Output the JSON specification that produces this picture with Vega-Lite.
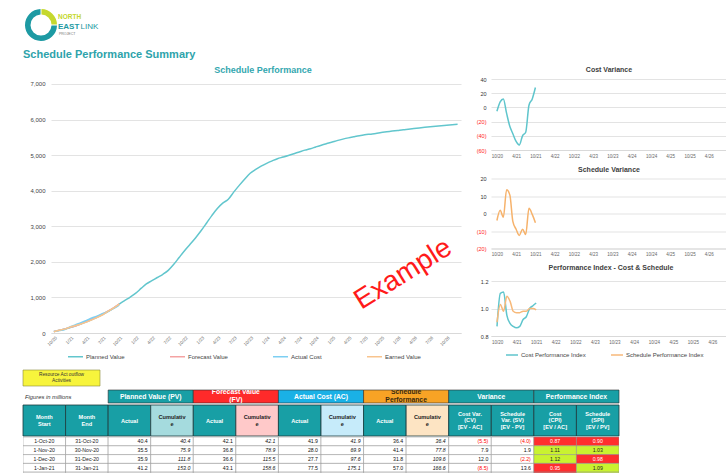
{
  "$schema": "https://vega.github.io/schema/vega-lite/v6.json",
  "usermeta": {"embedOptions": {"actions": false}},
  "padding": 0,
  "background": "white",
  "config": {
    "view": {"stroke": null},
    "font": "Liberation Sans"
  },
  "datasets": {
    "months": [
      {"Month": "2020/10/01", "Planned Value": 40.4, "Forecast Value": 42.1, "Actual Cost": 41.9, "Earned Value": 36.4, "CV": -5.5, "SV": -4.0, "Cost Performance Index": 0.87, "Schedule Performance Index": 0.90, "Start": "1-Oct-20", "End": "31-Oct-20", "PV Actual": 40.4, "FV Actual": 42.1, "AC Actual": 41.9, "EV Actual": 36.4},
      {"Month": "2020/11/01", "Planned Value": 75.9, "Forecast Value": 78.9, "Actual Cost": 69.9, "Earned Value": 77.8, "CV": 7.9, "SV": 1.9, "Cost Performance Index": 1.11, "Schedule Performance Index": 1.03, "Start": "1-Nov-20", "End": "30-Nov-20", "PV Actual": 35.5, "FV Actual": 36.8, "AC Actual": 28.0, "EV Actual": 41.4},
      {"Month": "2020/12/01", "Planned Value": 111.8, "Forecast Value": 115.5, "Actual Cost": 97.6, "Earned Value": 109.6, "CV": 12.0, "SV": -2.2, "Cost Performance Index": 1.12, "Schedule Performance Index": 0.98, "Start": "1-Dec-20", "End": "31-Dec-20", "PV Actual": 35.9, "FV Actual": 36.6, "AC Actual": 27.7, "EV Actual": 31.8},
      {"Month": "2021/01/01", "Planned Value": 153.0, "Forecast Value": 158.6, "Actual Cost": 175.1, "Earned Value": 166.6, "CV": -8.5, "SV": 13.6, "Cost Performance Index": 0.95, "Schedule Performance Index": 1.09, "Start": "1-Jan-21", "End": "31-Jan-21", "PV Actual": 41.2, "FV Actual": 43.1, "AC Actual": 77.5, "EV Actual": 57.0},
      {"Month": "2021/02/01", "Planned Value": 200.0, "Forecast Value": 206.0, "Actual Cost": 237.5, "Earned Value": 210.5, "CV": -27.0, "SV": 10.5, "Cost Performance Index": 0.89, "Schedule Performance Index": 1.05, "Start": "1-Feb-21", "End": "28-Feb-21", "PV Actual": 47.0, "FV Actual": 47.4, "AC Actual": 62.4, "EV Actual": 43.9},
      {"Month": "2021/03/01", "Planned Value": 255, "Forecast Value": 262, "Actual Cost": 287.5, "Earned Value": 250.5, "CV": -37.0, "SV": -4.5, "Cost Performance Index": 0.87, "Schedule Performance Index": 0.98},
      {"Month": "2021/04/01", "Planned Value": 315, "Forecast Value": 322, "Actual Cost": 354, "Earned Value": 306, "CV": -48.0, "SV": -9.0, "Cost Performance Index": 0.86, "Schedule Performance Index": 0.97},
      {"Month": "2021/05/01", "Planned Value": 380, "Forecast Value": 388, "Actual Cost": 420.5, "Earned Value": 367.5, "CV": -53.0, "SV": -12.5, "Cost Performance Index": 0.87, "Schedule Performance Index": 0.97},
      {"Month": "2021/06/01", "Planned Value": 450, "Forecast Value": 458, "Actual Cost": 481, "Earned Value": 441, "CV": -40.0, "SV": -9.0, "Cost Performance Index": 0.92, "Schedule Performance Index": 0.98},
      {"Month": "2021/07/01", "Planned Value": 525, "Forecast Value": 534, "Actual Cost": 548, "Earned Value": 513, "CV": -35.0, "SV": -12.0, "Cost Performance Index": 0.94, "Schedule Performance Index": 0.98},
      {"Month": "2021/08/01", "Planned Value": 610, "Forecast Value": 618, "Actual Cost": 610, "Earned Value": 613, "CV": 3.0, "SV": 3.0, "Cost Performance Index": 1.00, "Schedule Performance Index": 1.00},
      {"Month": "2021/09/01", "Planned Value": 705, "Forecast Value": 712, "Actual Cost": 692.5, "Earned Value": 704.5, "CV": 12.0, "SV": -0.5, "Cost Performance Index": 1.02, "Schedule Performance Index": 1.00},
      {"Month": "2021/10/01", "Planned Value": 815, "Forecast Value": 818, "Actual Cost": 781.7, "Earned Value": 809.7, "CV": 28.0, "SV": -5.3, "Cost Performance Index": 1.04, "Schedule Performance Index": 0.99},
      {"Month": "2021/11/01", "Planned Value": 915},
      {"Month": "2021/12/01", "Planned Value": 1010},
      {"Month": "2022/01/01", "Planned Value": 1120},
      {"Month": "2022/02/01", "Planned Value": 1260},
      {"Month": "2022/03/01", "Planned Value": 1380},
      {"Month": "2022/04/01", "Planned Value": 1470},
      {"Month": "2022/05/01", "Planned Value": 1560},
      {"Month": "2022/06/01", "Planned Value": 1650},
      {"Month": "2022/07/01", "Planned Value": 1760},
      {"Month": "2022/08/01", "Planned Value": 1930},
      {"Month": "2022/09/01", "Planned Value": 2130},
      {"Month": "2022/10/01", "Planned Value": 2320},
      {"Month": "2022/11/01", "Planned Value": 2500},
      {"Month": "2022/12/01", "Planned Value": 2680},
      {"Month": "2023/01/01", "Planned Value": 2880},
      {"Month": "2023/02/01", "Planned Value": 3100},
      {"Month": "2023/03/01", "Planned Value": 3300},
      {"Month": "2023/04/01", "Planned Value": 3500},
      {"Month": "2023/05/01", "Planned Value": 3650},
      {"Month": "2023/06/01", "Planned Value": 3760},
      {"Month": "2023/07/01", "Planned Value": 3960},
      {"Month": "2023/08/01", "Planned Value": 4150},
      {"Month": "2023/09/01", "Planned Value": 4330},
      {"Month": "2023/10/01", "Planned Value": 4490},
      {"Month": "2023/11/01", "Planned Value": 4600},
      {"Month": "2023/12/01", "Planned Value": 4690},
      {"Month": "2024/01/01", "Planned Value": 4770},
      {"Month": "2024/02/01", "Planned Value": 4840},
      {"Month": "2024/03/01", "Planned Value": 4900},
      {"Month": "2024/04/01", "Planned Value": 4945},
      {"Month": "2024/05/01", "Planned Value": 4990},
      {"Month": "2024/06/01", "Planned Value": 5040},
      {"Month": "2024/07/01", "Planned Value": 5090},
      {"Month": "2024/08/01", "Planned Value": 5140},
      {"Month": "2024/09/01", "Planned Value": 5180},
      {"Month": "2024/10/01", "Planned Value": 5230},
      {"Month": "2024/11/01", "Planned Value": 5280},
      {"Month": "2024/12/01", "Planned Value": 5325},
      {"Month": "2025/01/01", "Planned Value": 5370},
      {"Month": "2025/02/01", "Planned Value": 5415},
      {"Month": "2025/03/01", "Planned Value": 5450},
      {"Month": "2025/04/01", "Planned Value": 5485},
      {"Month": "2025/05/01", "Planned Value": 5515},
      {"Month": "2025/06/01", "Planned Value": 5545},
      {"Month": "2025/07/01", "Planned Value": 5570},
      {"Month": "2025/08/01", "Planned Value": 5590},
      {"Month": "2025/09/01", "Planned Value": 5610},
      {"Month": "2025/10/01", "Planned Value": 5635},
      {"Month": "2025/11/01", "Planned Value": 5655},
      {"Month": "2025/12/01", "Planned Value": 5675},
      {"Month": "2026/01/01", "Planned Value": 5695},
      {"Month": "2026/02/01", "Planned Value": 5715},
      {"Month": "2026/03/01", "Planned Value": 5730},
      {"Month": "2026/04/01", "Planned Value": 5748},
      {"Month": "2026/05/01", "Planned Value": 5765},
      {"Month": "2026/06/01", "Planned Value": 5783},
      {"Month": "2026/07/01", "Planned Value": 5798},
      {"Month": "2026/08/01", "Planned Value": 5812},
      {"Month": "2026/09/01", "Planned Value": 5826},
      {"Month": "2026/10/01", "Planned Value": 5840},
      {"Month": "2026/11/01", "Planned Value": 5854},
      {"Month": "2026/12/01", "Planned Value": 5868}
    ]
  },
  "spacing": 6,
  "resolve": {"scale": {"color": "independent"}, "legend": {"color": "independent"}},
  "vconcat": [
    {
      "width": 82,
      "height": 50,
      "layer": [
        {
          "data": {"values": [{"part": "lime", "share": 25, "seq": 1}, {"part": "teal", "share": 75, "seq": 2}]},
          "mark": {"type": "arc", "radius": 16, "radius2": 10.5, "padAngle": 0.05},
          "encoding": {
            "theta": {"field": "share", "type": "quantitative"},
            "order": {"field": "seq"},
            "color": {"condition": {"test": "datum.part == 'lime'", "value": "#c5d82e"}, "value": "#1d9aa3"}
          }
        },
        {"data": {"values": [{}]}, "mark": {"type": "text", "text": "NORTH", "align": "left", "dx": 17, "dy": -8, "fontSize": 6.5, "fontWeight": "bold", "color": "#c5d82e"}},
        {"data": {"values": [{}]}, "mark": {"type": "text", "text": "EAST", "align": "left", "dx": 17, "dy": 1.5, "fontSize": 8, "fontWeight": "bold", "color": "#1d9aa3"}},
        {"data": {"values": [{}]}, "mark": {"type": "text", "text": "LINK", "align": "left", "dx": 39.5, "dy": 1.5, "fontSize": 8, "color": "#1d9aa3"}},
        {"data": {"values": [{}]}, "mark": {"type": "text", "text": "PROJECT", "align": "left", "dx": 18, "dy": 9, "fontSize": 3.5, "color": "#777777"}},
        {"data": {"values": [{}]}, "mark": {"type": "text", "text": "Schedule Performance Summary", "align": "left", "dx": -18, "dy": 30, "fontSize": 11, "fontWeight": "bold", "color": "#2ea3ab"}}
      ]
    },
    {
      "spacing": 9,
      "resolve": {"scale": {"color": "independent"}, "legend": {"color": "independent"}},
      "vconcat": [
        {
          "spacing": 15,
          "resolve": {"scale": {"color": "independent"}, "legend": {"color": "independent"}},
          "hconcat": [
            {"width": 14, "height": 1, "data": {"values": []}, "mark": "point"},
            {
              "width": 410,
              "height": 254,
              "title": {"text": "Schedule Performance", "fontSize": 9, "fontWeight": "bold", "color": "#33a7af", "offset": 4, "dx": 7},
              "layer": [
                {
                  "data": {"name": "months"},
                  "transform": [
                    {"fold": ["Planned Value", "Forecast Value", "Actual Cost", "Earned Value"], "as": ["series", "value"]},
                    {"filter": "isValid(datum.value)"}
                  ],
                  "mark": {"type": "line", "strokeWidth": 1.5, "interpolate": "monotone"},
                  "encoding": {
                    "x": {
                      "field": "Month", "type": "temporal",
                      "scale": {"domain": [{"year": 2020, "month": 9, "date": 15}, {"year": 2026, "month": 12, "date": 20}]},
                      "axis": {"title": null, "format": "%-m/%y", "tickCount": {"interval": "month", "step": 3}, "labelAngle": -45, "labelFontSize": 4.5, "labelColor": "#666666", "ticks": false, "grid": false, "domainColor": "#d9d9d9", "labelPadding": 2, "labelOverlap": false, "labelFlush": false}
                    },
                    "y": {
                      "field": "value", "type": "quantitative",
                      "scale": {"domain": [0, 7140], "nice": false},
                      "axis": {"title": null, "values": [0, 1000, 2000, 3000, 4000, 5000, 6000, 7000], "labelExpr": "format(datum.value, ',')", "labelOverlap": false, "labelFontSize": 6, "labelColor": "#444444", "ticks": false, "domain": false, "gridColor": "#e3e3e3", "labelPadding": 6}
                    },
                    "color": {
                      "field": "series", "type": "nominal",
                      "scale": {"domain": ["Planned Value", "Forecast Value", "Actual Cost", "Earned Value"], "range": ["#62c6cd", "#f4a3a3", "#7dcff2", "#f8c48e"]},
                      "legend": {"title": null, "orient": "none", "legendX": 16, "legendY": 269, "direction": "horizontal", "columns": 4, "columnPadding": 42, "symbolType": "stroke", "symbolSize": 225, "symbolStrokeWidth": 1.5, "labelFontSize": 6, "labelColor": "#444444", "labelOffset": 2}
                    }
                  }
                },
                {
                  "data": {"values": [{}]},
                  "mark": {"type": "text", "text": "Example", "angle": -32, "fontSize": 28, "color": "#ff1a1a"},
                  "encoding": {
                    "x": {
                      "datum": {"year": 2026, "month": 2, "date": 1}, "type": "temporal",
                      "axis": {"title": null, "format": "%-m/%y", "tickCount": {"interval": "month", "step": 3}, "labelAngle": -45, "labelFontSize": 4.5, "labelColor": "#666666", "ticks": false, "grid": false, "domainColor": "#d9d9d9", "labelPadding": 2, "labelOverlap": false, "labelFlush": false}
                    },
                    "y": {
                      "datum": 1650, "type": "quantitative",
                      "axis": {"title": null, "values": [0, 1000, 2000, 3000, 4000, 5000, 6000, 7000], "labelExpr": "format(datum.value, ',')", "labelOverlap": false, "labelFontSize": 6, "labelColor": "#444444", "ticks": false, "domain": false, "gridColor": "#e3e3e3", "labelPadding": 6}
                    }
                  }
                }
              ]
            },
            {
              "spacing": 7.5,
              "resolve": {"scale": {"color": "independent"}, "legend": {"color": "independent"}},
              "vconcat": [
                {
                  "width": 236,
                  "height": 71,
                  "title": {"text": "Cost Variance", "fontSize": 7, "fontWeight": "bold", "color": "#404040", "offset": 4},
                  "data": {"name": "months"},
                  "transform": [{"filter": "isValid(datum.CV)"}],
                  "mark": {"type": "line", "color": "#5fc5cc", "strokeWidth": 1.5, "interpolate": "monotone"},
                  "encoding": {
                    "x": {
                      "field": "Month", "type": "temporal",
                      "scale": {"domain": [{"year": 2020, "month": 8, "date": 6}, {"year": 2026, "month": 9, "date": 21}]},
                      "axis": {"title": null, "format": "%-m/%y", "values": [{"year": 2020, "month": 10, "date": 1}, {"year": 2021, "month": 4, "date": 1}, {"year": 2021, "month": 10, "date": 1}, {"year": 2022, "month": 4, "date": 1}, {"year": 2022, "month": 10, "date": 1}, {"year": 2023, "month": 4, "date": 1}, {"year": 2023, "month": 10, "date": 1}, {"year": 2024, "month": 4, "date": 1}, {"year": 2024, "month": 10, "date": 1}, {"year": 2025, "month": 4, "date": 1}, {"year": 2025, "month": 10, "date": 1}, {"year": 2026, "month": 4, "date": 1}], "labelFontSize": 4.5, "labelColor": "#666666", "ticks": false, "grid": false, "domainColor": "#d9d9d9", "labelPadding": 3, "labelOverlap": false, "labelFlush": false}
                    },
                    "y": {
                      "field": "CV", "type": "quantitative",
                      "scale": {"domain": [-60, 40], "nice": false},
                      "axis": {"title": null, "values": [-60, -40, -20, 0, 20, 40], "labelExpr": "datum.value < 0 ? '(' + abs(datum.value) + ')' : '' + datum.value", "labelColor": {"condition": {"test": "datum.value < 0", "value": "#ff1a1a"}, "value": "#333333"}, "labelFontSize": 5.5, "ticks": false, "domain": false, "gridColor": "#e3e3e3", "labelPadding": 5}
                    }
                  }
                },
                {
                  "width": 236,
                  "height": 70,
                  "title": {"text": "Schedule Variance", "fontSize": 7, "fontWeight": "bold", "color": "#404040", "offset": 4},
                  "data": {"name": "months"},
                  "transform": [{"filter": "isValid(datum.SV)"}],
                  "mark": {"type": "line", "color": "#f6b26b", "strokeWidth": 1.5, "interpolate": "monotone"},
                  "encoding": {
                    "x": {
                      "field": "Month", "type": "temporal",
                      "scale": {"domain": [{"year": 2020, "month": 8, "date": 6}, {"year": 2026, "month": 9, "date": 21}]},
                      "axis": {"title": null, "format": "%-m/%y", "values": [{"year": 2020, "month": 10, "date": 1}, {"year": 2021, "month": 4, "date": 1}, {"year": 2021, "month": 10, "date": 1}, {"year": 2022, "month": 4, "date": 1}, {"year": 2022, "month": 10, "date": 1}, {"year": 2023, "month": 4, "date": 1}, {"year": 2023, "month": 10, "date": 1}, {"year": 2024, "month": 4, "date": 1}, {"year": 2024, "month": 10, "date": 1}, {"year": 2025, "month": 4, "date": 1}, {"year": 2025, "month": 10, "date": 1}, {"year": 2026, "month": 4, "date": 1}], "labelFontSize": 4.5, "labelColor": "#666666", "ticks": false, "grid": false, "domainColor": "#d9d9d9", "labelPadding": 3, "labelOverlap": false, "labelFlush": false}
                    },
                    "y": {
                      "field": "SV", "type": "quantitative",
                      "scale": {"domain": [-20, 20], "nice": false},
                      "axis": {"title": null, "values": [-20, -10, 0, 10, 20], "labelExpr": "datum.value < 0 ? '(' + abs(datum.value) + ')' : '' + datum.value", "labelColor": {"condition": {"test": "datum.value < 0", "value": "#ff1a1a"}, "value": "#333333"}, "labelFontSize": 5.5, "ticks": false, "domain": false, "gridColor": "#e3e3e3", "labelPadding": 5}
                    }
                  }
                },
                {
                  "width": 240,
                  "height": 55,
                  "title": {"text": "Performance Index - Cost & Schedule", "fontSize": 7, "fontWeight": "bold", "color": "#404040", "offset": 8},
                  "data": {"name": "months"},
                  "transform": [
                    {"filter": "isValid(datum['Cost Performance Index'])"},
                    {"fold": ["Cost Performance Index", "Schedule Performance Index"], "as": ["series", "value"]}
                  ],
                  "mark": {"type": "line", "strokeWidth": 1.5, "interpolate": "monotone"},
                  "encoding": {
                    "x": {
                      "field": "Month", "type": "temporal",
                      "scale": {"domain": [{"year": 2020, "month": 8, "date": 6}, {"year": 2026, "month": 9, "date": 21}]},
                      "axis": {"title": null, "format": "%-m/%y", "values": [{"year": 2020, "month": 10, "date": 1}, {"year": 2021, "month": 4, "date": 1}, {"year": 2021, "month": 10, "date": 1}, {"year": 2022, "month": 4, "date": 1}, {"year": 2022, "month": 10, "date": 1}, {"year": 2023, "month": 4, "date": 1}, {"year": 2023, "month": 10, "date": 1}, {"year": 2024, "month": 4, "date": 1}, {"year": 2024, "month": 10, "date": 1}, {"year": 2025, "month": 4, "date": 1}, {"year": 2025, "month": 10, "date": 1}, {"year": 2026, "month": 4, "date": 1}], "labelFontSize": 4.5, "labelColor": "#666666", "ticks": false, "grid": false, "domainColor": "#d9d9d9", "labelPadding": 3, "labelOverlap": false, "labelFlush": false}
                    },
                    "y": {
                      "field": "value", "type": "quantitative",
                      "scale": {"domain": [0.8, 1.2], "nice": false},
                      "axis": {"title": null, "values": [0.8, 1.0, 1.2], "format": ".1f", "labelFontSize": 5.5, "labelColor": "#333333", "ticks": false, "domain": false, "gridColor": "#e3e3e3", "labelPadding": 3}
                    },
                    "color": {
                      "field": "series", "type": "nominal",
                      "scale": {"domain": ["Cost Performance Index", "Schedule Performance Index"], "range": ["#5fc5cc", "#f7b97a"]},
                      "legend": {"title": null, "orient": "none", "legendX": 14, "legendY": 67, "direction": "horizontal", "columns": 2, "columnPadding": 22, "symbolType": "stroke", "symbolSize": 144, "symbolStrokeWidth": 1.5, "labelFontSize": 6, "labelColor": "#444444", "labelOffset": 2}
                    }
                  }
                }
              ]
            }
          ]
        },
        {
          "spacing": 10,
          "resolve": {"scale": {"color": "independent"}, "legend": {"color": "independent"}},
          "hconcat": [
            {"width": 12, "height": 1, "data": {"values": []}, "mark": "point"},
            {
              "spacing": 2,
              "resolve": {"scale": {"color": "independent"}, "legend": {"color": "independent"}},
              "vconcat": [
                {
                  "width": 77,
                  "height": 16,
                  "data": {"values": [{"note": "Resource Act outflow\nActivities"}]},
                  "layer": [
                    {
                      "mark": {"type": "rect", "color": "#f7f43c", "stroke": "#8a8a3a", "strokeWidth": 0.6},
                      "encoding": {
                        "x": {"field": "note", "type": "nominal", "axis": null, "scale": {"paddingInner": 0, "paddingOuter": 0}},
                        "y": {"field": "note", "type": "nominal", "axis": null, "scale": {"paddingInner": 0, "paddingOuter": 0}}
                      }
                    },
                    {
                      "mark": {"type": "text", "fontSize": 4.8, "color": "#333333", "lineBreak": "\n", "lineHeight": 6, "dy": -3},
                      "encoding": {"text": {"field": "note"}}
                    }
                  ]
                },
                {
                  "spacing": 0,
                  "resolve": {"scale": {"color": "independent"}, "legend": {"color": "independent"}},
                  "vconcat": [
                    {
                      "width": 596,
                      "height": 13,
                      "data": {"values": [
                        {"grp": "Figures", "label": "Figures in millions"},
                        {"grp": "PV", "label": "Planned Value (PV)"},
                        {"grp": "FV", "label": "Forecast Value\n(FV)"},
                        {"grp": "AC", "label": "Actual Cost (AC)"},
                        {"grp": "EV", "label": "Schedule\nPerformance"},
                        {"grp": "VAR", "label": "Variance"},
                        {"grp": "PI", "label": "Performance Index"}
                      ]},
                      "encoding": {
                        "x": {"field": "grp", "type": "nominal", "axis": null, "scale": {"domain": ["Figures", "PV", "FV", "AC", "EV", "VAR", "PI"], "paddingInner": 0, "paddingOuter": 0}}
                      },
                      "layer": [
                        {
                          "transform": [{"filter": "datum.grp != 'Figures'"}],
                          "mark": {"type": "rect", "stroke": "#2b2b2b", "strokeWidth": 0.6},
                          "encoding": {
                            "y": {"datum": "g", "type": "nominal", "axis": null, "scale": {"paddingInner": 0, "paddingOuter": 0}},
                            "color": {"condition": [
                              {"test": "datum.grp == 'FV'", "value": "#ff2a2a"},
                              {"test": "datum.grp == 'AC'", "value": "#1ab1e6"},
                              {"test": "datum.grp == 'EV'", "value": "#f8a325"}
                            ], "value": "#189fa5"}
                          }
                        },
                        {
                          "transform": [{"filter": "datum.grp != 'Figures' && indexof(datum.label, '\\n') < 0"}],
                          "mark": {"type": "text", "fontSize": 6.8, "fontWeight": "bold", "clip": true},
                          "encoding": {
                            "text": {"field": "label"},
                            "color": {"condition": {"test": "datum.grp == 'EV'", "value": "#3a2a10"}, "value": "#ffffff"}
                          }
                        },
                        {
                          "transform": [{"filter": "indexof(datum.label, '\\n') >= 0"}],
                          "mark": {"type": "text", "fontSize": 6.8, "fontWeight": "bold", "lineBreak": "\n", "lineHeight": 8, "dy": -4.5, "clip": true},
                          "encoding": {
                            "text": {"field": "label"},
                            "color": {"condition": {"test": "datum.grp == 'EV'", "value": "#3a2a10"}, "value": "#ffffff"}
                          }
                        },
                        {
                          "transform": [{"filter": "datum.grp == 'Figures'"}],
                          "mark": {"type": "text", "align": "left", "dx": 2, "fontSize": 5.8, "fontStyle": "italic", "color": "#333333"},
                          "encoding": {
                            "x": {"field": "grp", "type": "nominal", "bandPosition": 0},
                            "text": {"field": "label"}
                          }
                        }
                      ]
                    },
                    {
                      "width": 596,
                      "height": 31,
                      "data": {"values": [
                        {"col": "Start", "label": "Month\nStart"},
                        {"col": "End", "label": "Month\nEnd"},
                        {"col": "PV Actual", "label": "Actual"},
                        {"col": "Planned Value", "label": "Cumulativ\ne"},
                        {"col": "FV Actual", "label": "Actual"},
                        {"col": "Forecast Value", "label": "Cumulativ\ne"},
                        {"col": "AC Actual", "label": "Actual"},
                        {"col": "Actual Cost", "label": "Cumulativ\ne"},
                        {"col": "EV Actual", "label": "Actual"},
                        {"col": "Earned Value", "label": "Cumulativ\ne"},
                        {"col": "CV", "label": "Cost Var.\n(CV)\n[EV - AC]"},
                        {"col": "SV", "label": "Schedule\nVar. (SV)\n[EV - PV]"},
                        {"col": "Cost Performance Index", "label": "Cost\n(CPI)\n[EV / AC]"},
                        {"col": "Schedule Performance Index", "label": "Schedule\n(SPI)\n[EV / PV]"}
                      ]},
                      "encoding": {
                        "x": {"field": "col", "type": "nominal", "sort": null, "axis": null, "scale": {"paddingInner": 0, "paddingOuter": 0}},
                        "color": {"condition": {"test": "indexof(datum.label, 'Cumulativ') == 0", "value": "#222222"}, "value": "#ffffff"}
                      },
                      "layer": [
                        {
                          "mark": {"type": "rect", "stroke": "#1d3b3d", "strokeWidth": 0.8},
                          "encoding": {
                            "y": {"datum": "h", "type": "nominal", "axis": null, "scale": {"paddingInner": 0, "paddingOuter": 0}},
                            "color": {"condition": [
                              {"test": "datum.col == 'Planned Value'", "value": "#a5dbde"},
                              {"test": "datum.col == 'Forecast Value'", "value": "#ffc9c9"},
                              {"test": "datum.col == 'Actual Cost'", "value": "#c6ebfa"},
                              {"test": "datum.col == 'Earned Value'", "value": "#fde4c3"}
                            ], "value": "#189fa5"}
                          }
                        },
                        {
                          "transform": [{"filter": "length(split(datum.label, '\\n')) == 1"}],
                          "mark": {"type": "text", "fontSize": 5.6, "fontWeight": "bold"},
                          "encoding": {"text": {"field": "label"}}
                        },
                        {
                          "transform": [{"filter": "length(split(datum.label, '\\n')) == 2"}],
                          "mark": {"type": "text", "fontSize": 5.6, "fontWeight": "bold", "lineBreak": "\n", "lineHeight": 6.8, "dy": -3.4},
                          "encoding": {"text": {"field": "label"}}
                        },
                        {
                          "transform": [{"filter": "length(split(datum.label, '\\n')) == 3"}],
                          "mark": {"type": "text", "fontSize": 5.6, "fontWeight": "bold", "lineBreak": "\n", "lineHeight": 6.8, "dy": -6.8},
                          "encoding": {"text": {"field": "label"}}
                        }
                      ]
                    },
                    {
                      "width": 596,
                      "height": 40,
                      "data": {"name": "months"},
                      "transform": [{"filter": "isValid(datum.Start)"}],
                      "encoding": {
                        "x": {"field": "key", "type": "nominal", "axis": null, "scale": {"domain": ["Start", "End", "PV Actual", "Planned Value", "FV Actual", "Forecast Value", "AC Actual", "Actual Cost", "EV Actual", "Earned Value", "CV", "SV", "Cost Performance Index", "Schedule Performance Index"], "paddingInner": 0, "paddingOuter": 0}},
                        "y": {"field": "Start", "type": "nominal", "sort": null, "axis": null, "scale": {"range": [0, 44], "paddingInner": 0, "paddingOuter": 0}}
                      },
                      "layer": [
                        {
                          "transform": [{"fold": ["Start", "End"], "as": ["key", "value"]}],
                          "layer": [
                            {"mark": {"type": "rect", "color": "#ffffff", "stroke": "#8c8c8c", "strokeWidth": 0.5, "clip": true}},
                            {"mark": {"type": "text", "fontSize": 5.2, "color": "#222222", "clip": true}, "encoding": {"text": {"field": "value"}}}
                          ]
                        },
                        {
                          "transform": [
                            {"fold": ["PV Actual", "Planned Value", "FV Actual", "Forecast Value", "AC Actual", "Actual Cost", "EV Actual", "Earned Value", "CV", "SV", "Cost Performance Index", "Schedule Performance Index"], "as": ["key", "value"]},
                            {"calculate": "datum.value < 0 ? '(' + format(-datum.value, '.1f') + ')' : format(datum.value, (datum.key == 'Cost Performance Index' || datum.key == 'Schedule Performance Index') ? '.2f' : '.1f')", "as": "label"}
                          ],
                          "layer": [
                            {
                              "mark": {"type": "rect", "stroke": "#8c8c8c", "strokeWidth": 0.5, "clip": true},
                              "encoding": {
                                "color": {"condition": [
                                  {"test": "(datum.key == 'Cost Performance Index' || datum.key == 'Schedule Performance Index') && datum.value < 1", "value": "#ff2e2e"},
                                  {"test": "datum.key == 'Cost Performance Index' || datum.key == 'Schedule Performance Index'", "value": "#c9f230"}
                                ], "value": "#ffffff"}
                              }
                            },
                            {
                              "transform": [{"filter": {"field": "key", "oneOf": ["PV Actual", "FV Actual", "AC Actual", "EV Actual", "CV", "SV"]}}],
                              "mark": {"type": "text", "align": "right", "dx": -3, "fontSize": 5.2, "clip": true},
                              "encoding": {
                                "x": {"field": "key", "type": "nominal", "bandPosition": 1},
                                "text": {"field": "label"},
                                "color": {"condition": {"test": "datum.value < 0", "value": "#ff0000"}, "value": "#111111"}
                              }
                            },
                            {
                              "transform": [{"filter": {"field": "key", "oneOf": ["Planned Value", "Forecast Value", "Actual Cost", "Earned Value"]}}],
                              "mark": {"type": "text", "align": "right", "dx": -3, "fontSize": 5.2, "fontStyle": "italic", "color": "#111111", "clip": true},
                              "encoding": {
                                "x": {"field": "key", "type": "nominal", "bandPosition": 1},
                                "text": {"field": "label"}
                              }
                            },
                            {
                              "transform": [{"filter": {"field": "key", "oneOf": ["Cost Performance Index", "Schedule Performance Index"]}}],
                              "mark": {"type": "text", "fontSize": 5.2, "clip": true},
                              "encoding": {
                                "text": {"field": "label"},
                                "color": {"condition": {"test": "datum.value < 1", "value": "#ffffff"}, "value": "#222222"}
                              }
                            }
                          ]
                        }
                      ]
                    }
                  ]
                }
              ]
            }
          ]
        }
      ]
    }
  ]
}
